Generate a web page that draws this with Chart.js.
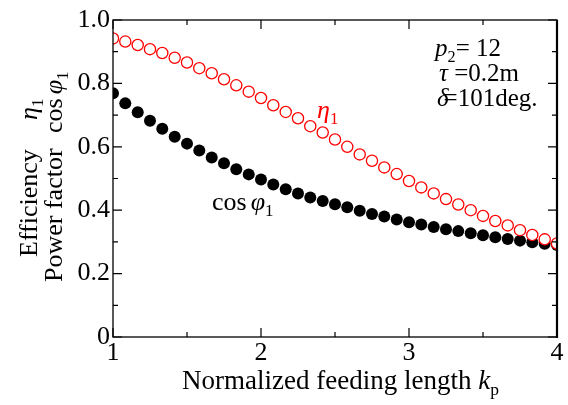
<!DOCTYPE html>
<html>
<head>
<meta charset="utf-8">
<script src="https://cdn.jsdelivr.net/npm/chart.js@4.4.1/dist/chart.umd.min.js"></script>
<style>
  html, body { margin: 0; padding: 0; background: #fff; }
  #wrap { width: 568px; height: 405px; }
</style>
</head>
<body>
<div id="wrap"><canvas id="effChart" width="568" height="405"></canvas></div>
<script>
// normalized feeding length kp
const kp = [1.000, 1.083, 1.167, 1.250, 1.333, 1.417, 1.500, 1.583, 1.667, 1.750,
    1.833, 1.917, 2.000, 2.083, 2.167, 2.250, 2.333, 2.417, 2.500, 2.583,
    2.667, 2.750, 2.833, 2.917, 3.000, 3.083, 3.167, 3.250, 3.333, 3.417,
    3.500, 3.583, 3.667, 3.750, 3.833, 3.917, 4.000];

// efficiency eta1 (red open circles)
const eta1 = [0.942, 0.932, 0.921, 0.908, 0.896, 0.881, 0.866, 0.848, 0.832, 0.813,
    0.794, 0.774, 0.754, 0.731, 0.710, 0.690, 0.665, 0.645, 0.623, 0.600,
    0.576, 0.556, 0.535, 0.514, 0.492, 0.472, 0.453, 0.435, 0.418, 0.400,
    0.382, 0.366, 0.352, 0.337, 0.322, 0.308, 0.295];

// power factor cos phi1 (black dots)
const cosPhi1 = [0.769, 0.737, 0.709, 0.682, 0.657, 0.632, 0.610, 0.588, 0.566, 0.548,
    0.529, 0.513, 0.497, 0.481, 0.466, 0.453, 0.440, 0.429, 0.419, 0.409,
    0.398, 0.388, 0.380, 0.371, 0.362, 0.355, 0.347, 0.340, 0.334, 0.327,
    0.321, 0.315, 0.309, 0.304, 0.299, 0.294, 0.290];

const xMajor = [1, 2, 3, 4];
const xMinor = [1.5, 2.5, 3.5];
const yMajor = [0, 0.2, 0.4, 0.6, 0.8, 1.0];
const yMinor = [0.1, 0.3, 0.5, 0.7, 0.9];

const SERIF = "'Liberation Serif', 'DejaVu Serif', 'Noto Serif', serif";

// draws runs of text like [{t:'cos'}, {t:'φ', i:true}, {t:'1', sub:true}]
function drawRuns(ctx, x, y, runs, size, color) {
    let cx = x;
    ctx.fillStyle = color;
    ctx.textBaseline = 'alphabetic';
    ctx.textAlign = 'left';
    for (const r of runs) {
        const s = r.sub ? size * 0.65 : size;
        ctx.font = (r.i ? 'italic ' : '') + s + 'px ' + SERIF;
        const dy = r.sub ? size * 0.22 : 0;
        cx += r.dx || 0;
        ctx.fillText(r.t, cx, y + dy);
        cx += ctx.measureText(r.t).width;
    }
}

const decorations = {
    id: 'decorations',
    afterDraw(chart) {
        const ctx = chart.ctx;
        const a = chart.chartArea;
        const xs = chart.scales.x, ys = chart.scales.y;
        ctx.save();

        // frame
        ctx.strokeStyle = '#000';
        ctx.lineWidth = 1.3;
        ctx.strokeRect(a.left, a.top, a.right - a.left, a.bottom - a.top);
        ctx.lineWidth = 2.2;
        ctx.beginPath();
        ctx.moveTo(a.right, a.top);
        ctx.lineTo(a.right, a.bottom + 1);
        ctx.stroke();

        // inward ticks
        ctx.lineWidth = 1.2;
        ctx.beginPath();
        const xt = (v, len) => {
            const px = xs.getPixelForValue(v);
            ctx.moveTo(px, a.bottom); ctx.lineTo(px, a.bottom - len);
            ctx.moveTo(px, a.top); ctx.lineTo(px, a.top + len);
        };
        const yt = (v, len) => {
            const py = ys.getPixelForValue(v);
            ctx.moveTo(a.left, py); ctx.lineTo(a.left + len, py);
            ctx.moveTo(a.right, py); ctx.lineTo(a.right - len, py);
        };
        xMajor.forEach(v => xt(v, 9));
        xMinor.forEach(v => xt(v, 5));
        yMajor.forEach(v => yt(v, 9));
        yMinor.forEach(v => yt(v, 5));
        ctx.stroke();

        // x axis title
        drawRuns(ctx, 182, 389, [
            {t: 'Normalized feeding length '},
            {t: 'k', i: true},
            {t: 'p', sub: true}
        ], 27, '#000');

        // y axis title, two rotated lines
        const rot = (x, y, runs) => {
            ctx.save();
            ctx.translate(x, y);
            ctx.rotate(-Math.PI / 2);
            drawRuns(ctx, 0, 0, runs, 26, '#000');
            ctx.restore();
        };
        rot(37, 257, [{t: 'Efficiency'}]);
        rot(37, 120, [{t: 'η', i: true}, {t: '1', sub: true}]);
        rot(62, 282, [{t: 'Power factor'}]);
        rot(62, 133, [{t: 'cos'}, {t: 'φ', i: true, dx: 4}, {t: '1', sub: true}]);

        // curve labels
        drawRuns(ctx, 317, 118, [{t: 'η', i: true}, {t: '1', sub: true}], 26, '#ff0000');
        drawRuns(ctx, 212, 210, [{t: 'cos'}, {t: 'φ', i: true, dx: 4}, {t: '1', sub: true}], 26, '#000');

        // parameters
        drawRuns(ctx, 435, 56, [{t: 'p', i: true}, {t: '2', sub: true}, {t: '= 12'}], 25, '#000');
        drawRuns(ctx, 439, 81, [{t: 'τ', i: true}, {t: ' =0.2m'}], 25, '#000');
        drawRuns(ctx, 437, 106, [{t: 'δ', i: true}, {t: '=101deg.', dx: -5}], 25, '#000');

        ctx.restore();
    }
};

const ctx = document.getElementById('effChart').getContext('2d');

new Chart(ctx, {
    type: 'scatter',
    data: {
        datasets: [
            {
                label: 'eta1',
                data: kp.map((x, i) => ({x: x, y: eta1[i]})),
                borderColor: '#ff0000',
                backgroundColor: '#ffffff',
                borderWidth: 1.3,
                pointRadius: 5.6,
                showLine: false,
                order: 0
            },
            {
                label: 'cosphi1',
                data: kp.map((x, i) => ({x: x, y: cosPhi1[i]})),
                borderColor: '#000000',
                backgroundColor: '#000000',
                borderWidth: 0,
                pointRadius: 6,
                showLine: false,
                order: 1
            }
        ]
    },
    options: {
        responsive: false,
        animation: false,
        layout: {
            padding: {left: 0, right: 11, top: 20, bottom: 0}
        },
        plugins: {
            legend: {display: false},
            tooltip: {enabled: false}
        },
        scales: {
            x: {
                type: 'linear',
                min: 1,
                max: 4,
                grid: {display: false, drawTicks: false},
                border: {display: false},
                afterFit(scale) { scale.height = 68; },
                ticks: {
                    stepSize: 1,
                    autoSkip: false,
                    maxRotation: 0,
                    padding: 1,
                    color: '#000',
                    font: {family: SERIF, size: 26},
                    callback: v => String(v)
                }
            },
            y: {
                min: 0,
                max: 1,
                grid: {display: false, drawTicks: false},
                border: {display: false},
                afterFit(scale) { scale.width = 113; },
                ticks: {
                    stepSize: 0.2,
                    autoSkip: false,
                    padding: 3,
                    color: '#000',
                    font: {family: SERIF, size: 26},
                    callback: v => (v === 0 ? '0' : v.toFixed(1))
                }
            }
        }
    },
    plugins: [decorations]
});
</script>
</body>
</html>
